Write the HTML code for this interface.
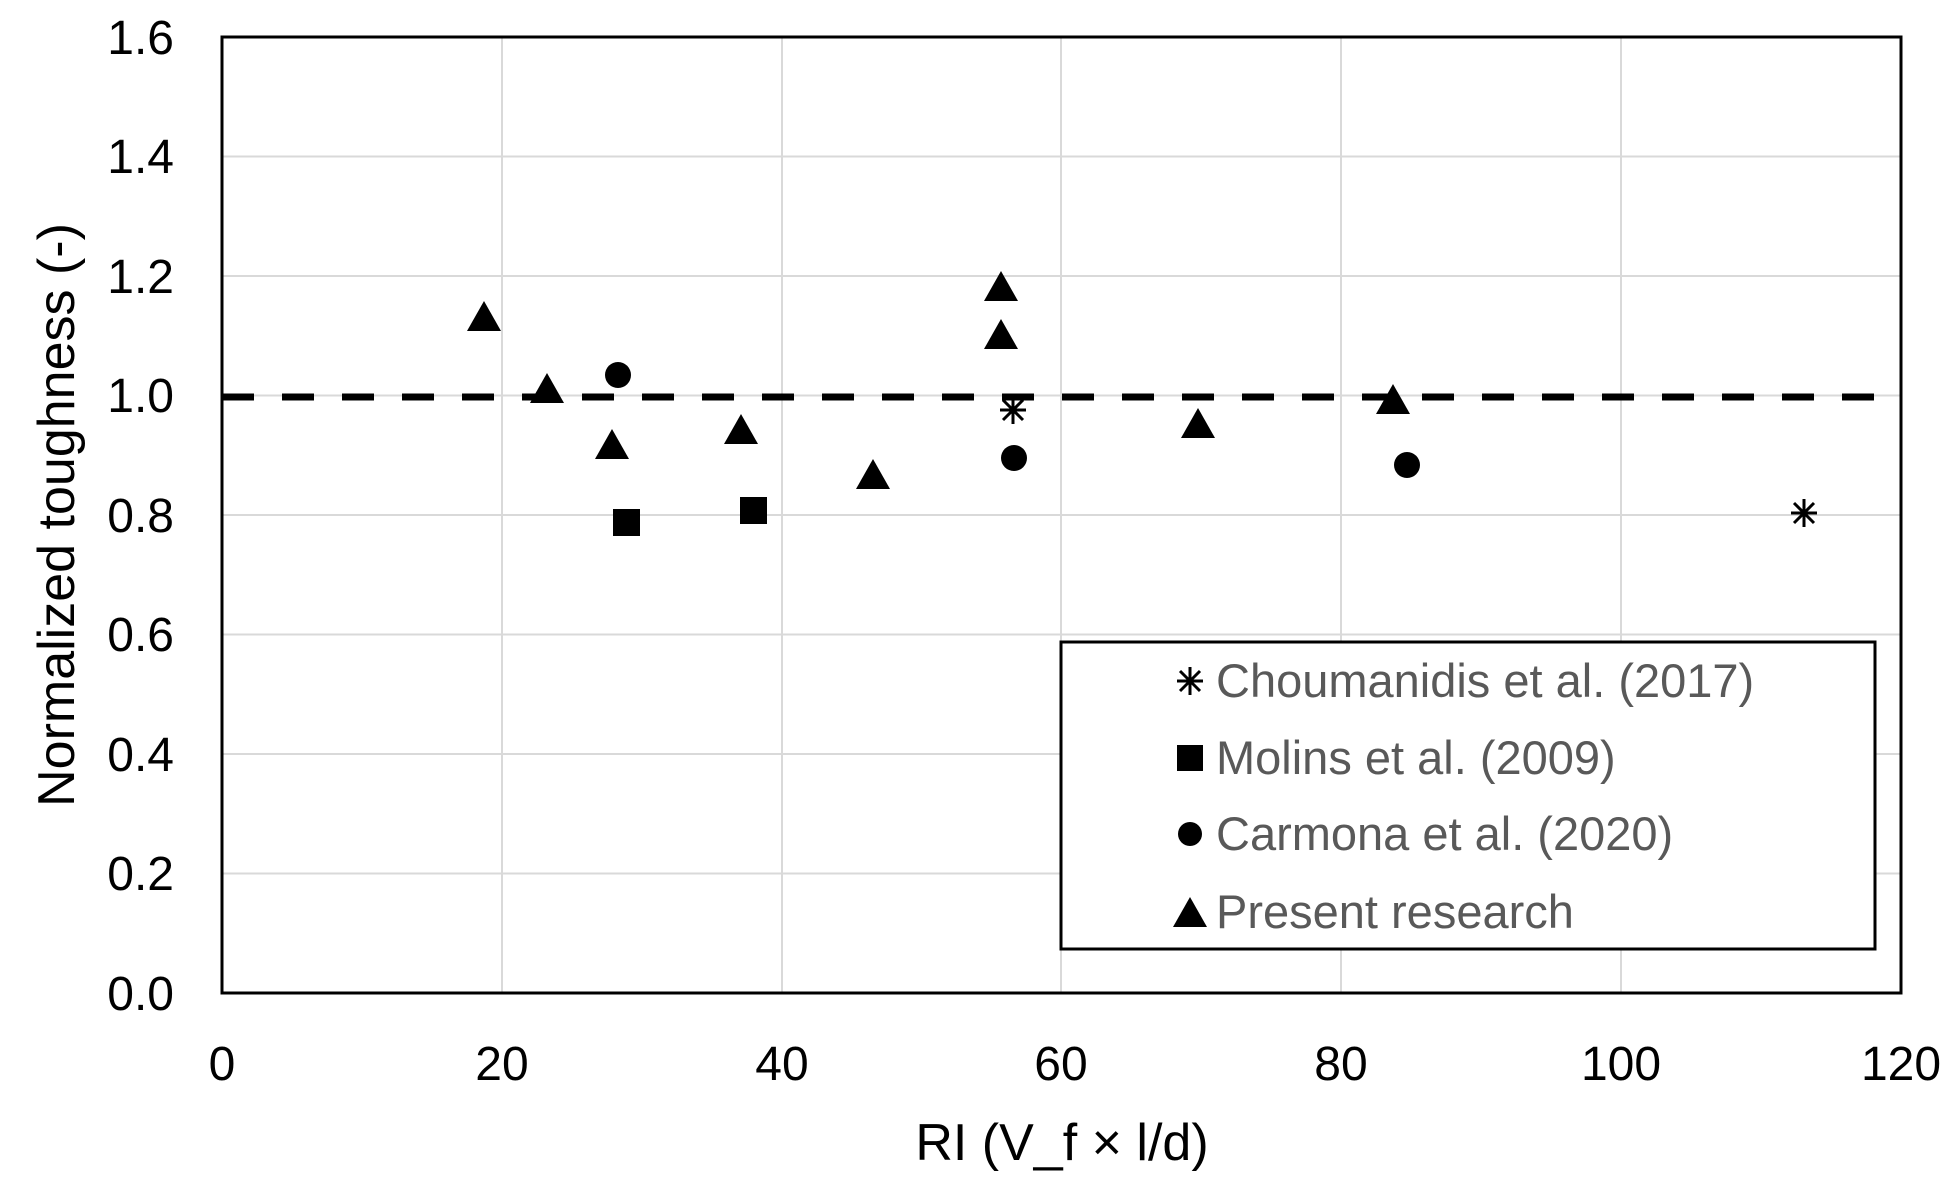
<!DOCTYPE html>
<html><head><meta charset="utf-8"><style>body{margin:0;background:#fff}svg{display:block}</style></head>
<body>
<svg width="1956" height="1195" viewBox="0 0 1956 1195" xmlns="http://www.w3.org/2000/svg" font-family="Liberation Sans, sans-serif">
<rect width="1956" height="1195" fill="#fff"/>
<g stroke="#d9d9d9" stroke-width="2">
<line x1="502" y1="37" x2="502" y2="993"/><line x1="782" y1="37" x2="782" y2="993"/><line x1="1061" y1="37" x2="1061" y2="993"/><line x1="1341" y1="37" x2="1341" y2="993"/><line x1="1621" y1="37" x2="1621" y2="993"/>
<line x1="222" y1="156.5" x2="1901" y2="156.5"/><line x1="222" y1="276" x2="1901" y2="276"/><line x1="222" y1="395.5" x2="1901" y2="395.5"/><line x1="222" y1="515" x2="1901" y2="515"/><line x1="222" y1="634.5" x2="1901" y2="634.5"/><line x1="222" y1="754" x2="1901" y2="754"/><line x1="222" y1="873.5" x2="1901" y2="873.5"/>
</g>
<rect x="222" y="37" width="1679" height="956" fill="none" stroke="#000" stroke-width="3"/>
<line x1="222" y1="397" x2="1901" y2="397" stroke="#000" stroke-width="7" stroke-dasharray="32,28"/>
<g font-size="48" fill="#000" text-anchor="end">
<text x="174" y="54">1.6</text><text x="174" y="173">1.4</text><text x="174" y="293">1.2</text><text x="174" y="412">1.0</text><text x="174" y="532">0.8</text><text x="174" y="651">0.6</text><text x="174" y="771">0.4</text><text x="174" y="890">0.2</text><text x="174" y="1010">0.0</text>
</g>
<g font-size="48" fill="#000" text-anchor="middle">
<text x="222" y="1080">0</text><text x="502" y="1080">20</text><text x="782" y="1080">40</text><text x="1061" y="1080">60</text><text x="1341" y="1080">80</text><text x="1621" y="1080">100</text><text x="1901" y="1080">120</text>
</g>
<text x="1062" y="1160" font-size="52" text-anchor="middle" fill="#000">RI (V_f × l/d)</text>
<text transform="translate(74,515) rotate(-90)" font-size="52" text-anchor="middle" fill="#000">Normalized toughness (-)</text>
<defs>
<path id="tri" d="M0,-17 L17,13 L-17,13 Z" fill="#000"/>
<g id="ast" stroke="#000" stroke-width="3"><line x1="-13" y1="0" x2="13" y2="0"/><line x1="0" y1="-14" x2="0" y2="14"/><line x1="-10" y1="-10" x2="10" y2="10"/><line x1="-10" y1="10" x2="10" y2="-10"/></g>
</defs>
<g>
<use href="#tri" x="484" y="318"/><use href="#tri" x="547" y="390"/><use href="#tri" x="612" y="446"/><use href="#tri" x="741" y="431"/><use href="#tri" x="873" y="476"/><use href="#tri" x="1001" y="288"/><use href="#tri" x="1001" y="336"/><use href="#tri" x="1198" y="425"/><use href="#tri" x="1393" y="401"/>
<circle cx="618" cy="375" r="13"/><circle cx="1014" cy="458" r="13"/><circle cx="1407" cy="465" r="13"/>
<rect x="613" y="509" width="27" height="27"/><rect x="740" y="497" width="27" height="27"/>
<use href="#ast" x="1013" y="410"/><use href="#ast" x="1804" y="513"/>
</g>
<rect x="1061" y="642" width="814" height="307" fill="#fff" stroke="#000" stroke-width="3"/>
<use href="#ast" x="1190" y="681"/>
<rect x="1177" y="745" width="26" height="26"/>
<circle cx="1190" cy="834" r="12"/>
<use href="#tri" x="1190" y="914"/>
<g font-size="47" fill="#595959">
<text x="1216" y="697">Choumanidis et al. (2017)</text>
<text x="1216" y="774">Molins et al. (2009)</text>
<text x="1216" y="850">Carmona et al. (2020)</text>
<text x="1216" y="928">Present research</text>
</g>
</svg>
</body></html>
